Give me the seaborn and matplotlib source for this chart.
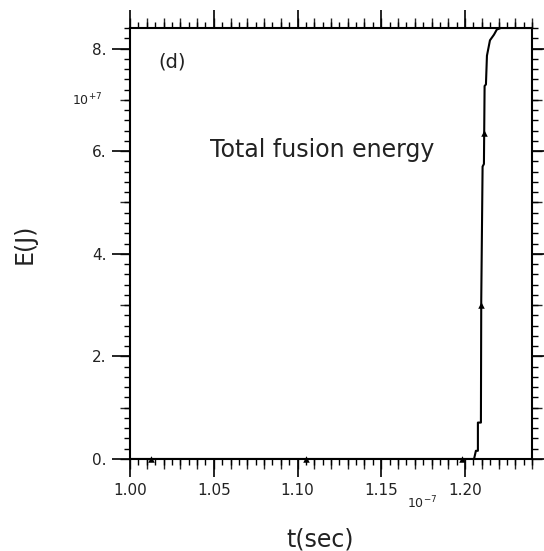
import numpy as np
import pandas as pd
import matplotlib
matplotlib.use("Agg")
import matplotlib.pyplot as plt
import seaborn as sns
from matplotlib.ticker import MultipleLocator, FuncFormatter

# ---- data (t in units of 1e-7 s, E in units of 1e7 J) ----
t_vals = [1.0000, 1.2054, 1.2065, 1.2077, 1.2077, 1.2095, 1.2097, 1.2105,
          1.2113, 1.2117, 1.2125, 1.2131, 1.2149, 1.2173, 1.2190, 1.2214, 1.2400]
e_vals = [0.00, 0.00, 0.16, 0.16, 0.71, 0.71, 3.10, 5.70,
          5.75, 7.27, 7.30, 7.86, 8.16, 8.27, 8.37, 8.40, 8.40]
t_marks = [1.0125, 1.105, 1.198, 1.2097, 1.2111]
e_marks = [0.0, 0.0, 0.0, 3.0, 6.35]

x_ticks_major = 0.05
y_ticks_major = 2.0

sns.set_style("ticks")
plt.rcParams['font.family'] = ['DejaVu Sans']

df = pd.DataFrame({"t": t_vals, "E": e_vals})
dm = pd.DataFrame({"t": t_marks, "E": e_marks})

fig = plt.figure(figsize=(5.44, 5.51), dpi=100)
ax = fig.add_axes([130/544, 1-459/551, 402/544, 431/551])

sns.lineplot(data=df, x="t", y="E", ax=ax, sort=False, estimator=None,
             color="black", linewidth=1.5)
sns.scatterplot(data=dm, x="t", y="E", ax=ax, marker="^", color="black",
                s=22, linewidth=0, zorder=5, clip_on=False)

ax.set_xlim(1.00, 1.24)
ax.set_ylim(0, 8.4)

txtc = "#222222"
ax.xaxis.set_major_locator(MultipleLocator(x_ticks_major))
ax.xaxis.set_minor_locator(MultipleLocator(0.005))
ax.yaxis.set_major_locator(MultipleLocator(y_ticks_major))
ax.yaxis.set_minor_locator(MultipleLocator(0.2))
ax.xaxis.set_major_formatter(FuncFormatter(lambda v, p: f"{v:.2f}"))
ax.yaxis.set_major_formatter(FuncFormatter(lambda v, p: f"{v:.0f}."))

ax.tick_params(which="both", direction="out", top=True, right=True,
               labeltop=False, labelright=False, color="black")
ax.tick_params(which="major", length=13, width=1.2, labelsize=11,
               labelcolor=txtc, pad=4)
ax.tick_params(which="minor", length=4, width=1.0)
for s in ax.spines.values():
    s.set_visible(True)
    s.set_linewidth(1.5)
    s.set_color("black")

# medium ticks via secondary axes
for side in ("top", "bottom"):
    sec = ax.secondary_xaxis(side)
    sec.xaxis.set_major_locator(MultipleLocator(0.01))
    sec.tick_params(which="major", direction="out", length=7, width=1.0,
                    labelbottom=False, labeltop=False)
    sec.xaxis.set_major_formatter(FuncFormatter(lambda v, p: ""))
    sec.spines[side].set_visible(False)
    sec.tick_params(which="minor", length=0)
for side in ("left", "right"):
    sec = ax.secondary_yaxis(side)
    sec.yaxis.set_major_locator(MultipleLocator(1.0))
    sec.tick_params(which="major", direction="out", length=7, width=1.0,
                    labelleft=False, labelright=False)
    sec.yaxis.set_major_formatter(FuncFormatter(lambda v, p: ""))
    sec.spines[side].set_visible(False)
    sec.tick_params(which="minor", length=0)

ax.set_xlabel("t(sec)", fontsize=17, color=txtc)
ax.set_ylabel("E(J)", fontsize=17, color=txtc)
ax.xaxis.set_label_coords((320-130)/402, (459-527)/431)
ax.yaxis.set_label_coords((37-130)/402, 0.5)

ax.text((172-130)/402, (459-62)/431, "(d)", transform=ax.transAxes,
        fontsize=14, ha="center", va="center", color=txtc)
ax.text((322-130)/402, (459-150)/431, "Total fusion energy",
        transform=ax.transAxes, fontsize=17, ha="center", va="center",
        color=txtc)

fig.text(87/544, 1-100/551, r"10$^{+7}$", fontsize=9, ha="center",
         va="center", color=txtc)
fig.text(422/544, 1-503/551, r"10$^{-7}$", fontsize=9, ha="center",
         va="center", color=txtc)

fig.savefig("out.png", dpi=100)
